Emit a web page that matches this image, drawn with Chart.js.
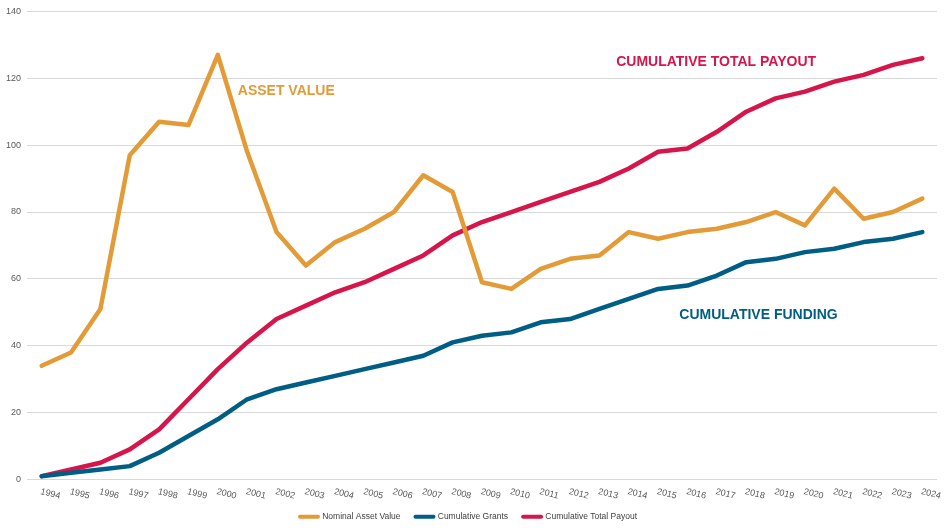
<!DOCTYPE html>
<html>
<head>
<meta charset="utf-8">
<script src="https://cdn.jsdelivr.net/npm/chart.js@4/dist/chart.umd.min.js"></script>
<style>
  html, body { margin: 0; padding: 0; background: #fff; }
  #wrap { width: 949px; height: 531px; }
</style>
</head>
<body>
<div id="wrap"><canvas id="chart"></canvas></div>
<script>
const years = ['1994','1995','1996','1997','1998','1999','2000','2001','2002','2003','2004','2005','2006','2007','2008','2009','2010','2011','2012','2013','2014','2015','2016','2017','2018','2019','2020','2021','2022','2023','2024'];

const assetValue = [34, 38, 51, 97, 107, 106, 127, 98, 74, 64, 71, 75, 80, 91, 86, 59, 57, 63, 66, 67, 74, 72, 74, 75, 77, 80, 76, 87, 78, 80, 84];
const cumulativeGrants = [1, 2, 3, 4, 8, 13, 18, 24, 27, 29, 31, 33, 35, 37, 41, 43, 44, 47, 48, 51, 54, 57, 58, 61, 65, 66, 68, 69, 71, 72, 74];
const cumulativePayout = [1, 3, 5, 9, 15, 24, 33, 41, 48, 52, 56, 59, 63, 67, 73, 77, 80, 83, 86, 89, 93, 98, 99, 104, 110, 114, 116, 119, 121, 124, 126];

const yTicks = [0, 20, 40, 60, 80, 100, 120, 140];

const ORANGE = '#E39B38';
const BLUE = '#005E84';
const RED = '#D6154A';
const SANS = '"Liberation Sans", Arial, sans-serif';

// callouts placed in data coordinates (category index, value)
const callouts = [
  { text: 'ASSET VALUE', x: 6.68, y: 116.3, color: ORANGE },
  { text: 'CUMULATIVE TOTAL PAYOUT', x: 19.57, y: 124.8, color: RED },
  { text: 'CUMULATIVE FUNDING', x: 21.72, y: 49.2, color: BLUE }
];

// x labels are drawn by hand so they can lean down to the right
const slantedLabels = {
  id: 'slantedLabels',
  afterDraw(chart) {
    const ctx = chart.ctx;
    const xs = chart.scales.x;
    const bottom = chart.chartArea.bottom;
    ctx.save();
    ctx.font = '9px ' + SANS;
    ctx.fillStyle = '#595959';
    ctx.textAlign = 'left';
    ctx.textBaseline = 'middle';
    years.forEach((y, i) => {
      const px = xs.getPixelForValue(i);
      ctx.save();
      ctx.translate(px - 1, bottom + 12);
      ctx.rotate(14 * Math.PI / 180);
      ctx.fillText(y, 0, 0);
      ctx.restore();
    });
    ctx.restore();
  }
};

const calloutLabels = {
  id: 'calloutLabels',
  afterDatasetsDraw(chart) {
    const ctx = chart.ctx;
    const xs = chart.scales.x, ys = chart.scales.y;
    ctx.save();
    ctx.font = 'bold 14px ' + SANS;
    ctx.textAlign = 'left';
    ctx.textBaseline = 'middle';
    callouts.forEach(c => {
      ctx.fillStyle = c.color;
      ctx.fillText(c.text, xs.getPixelForValue(c.x), ys.getPixelForValue(c.y));
    });
    ctx.restore();
  }
};

const makeSet = (label, data, color) => ({
  label: label,
  data: data,
  borderColor: color,
  backgroundColor: color,
  borderWidth: 4.5,
  pointRadius: 0,
  tension: 0,
  borderCapStyle: 'round',
  borderJoinStyle: 'round',
  fill: false
});

new Chart(document.getElementById('chart').getContext('2d'), {
  type: 'line',
  data: {
    labels: years,
    datasets: [
      makeSet('Nominal Asset Value', assetValue, ORANGE),
      makeSet('Cumulative Grants', cumulativeGrants, BLUE),
      makeSet('Cumulative Total Payout', cumulativePayout, RED)
    ]
  },
  options: {
    responsive: true,
    maintainAspectRatio: false,
    animation: false,
    layout: { padding: { left: 0, right: 12, top: 2, bottom: 0 } },
    plugins: {
      legend: {
        position: 'bottom',
        labels: {
          usePointStyle: true,
          pointStyle: 'line',
          pointStyleWidth: 18,
          padding: 15,
          color: '#404040',
          font: { size: 8.5, family: SANS },
          generateLabels(chart) {
            return Chart.defaults.plugins.legend.labels.generateLabels(chart).map(l => {
              l.lineWidth = 4;
              l.lineCap = 'round';
              return l;
            });
          }
        }
      },
      tooltip: { enabled: false }
    },
    scales: {
      x: {
        offset: true,
        grid: { display: false },
        border: { display: false },
        ticks: { display: false },
        afterFit(scale) { scale.height = 18; }
      },
      y: {
        min: 0,
        max: 140,
        afterBuildTicks(scale) { scale.ticks = yTicks.map(v => ({ value: v })); },
        grid: { color: '#D9D9D9', lineWidth: 1, drawTicks: false },
        border: { display: false },
        ticks: {
          padding: 6,
          color: '#595959',
          font: { size: 9, family: SANS }
        }
      }
    }
  },
  plugins: [slantedLabels, calloutLabels]
});
</script>
</body>
</html>
